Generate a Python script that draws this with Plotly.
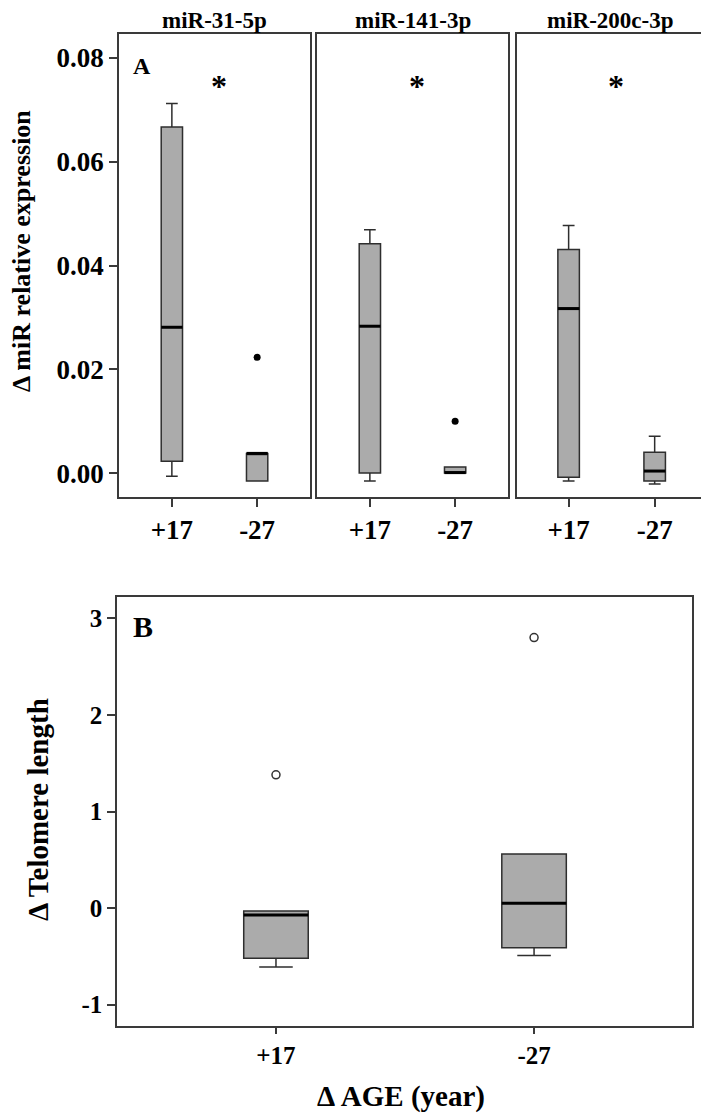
import plotly.graph_objects as go

# ---------------- data ----------------
groups = ["+17", "-27"]
mir_names = ["miR-31-5p", "miR-141-3p", "miR-200c-3p"]

mir_lower = [[-0.0006, -0.0015], [-0.0015, 0.0000], [-0.0015, -0.0021]]
mir_q1 = [[0.0023, -0.0015], [0.0000, 0.0000], [-0.0008, -0.0015]]
mir_median = [[0.0281, 0.0038], [0.0283, 0.0001], [0.0317, 0.0004]]
mir_q3 = [[0.0667, 0.0038], [0.0442, 0.0012], [0.0431, 0.0040]]
mir_upper = [[0.0712, 0.0038], [0.0469, 0.0012], [0.0477, 0.0071]]
mir_outlier_group = [1, 1, None]
mir_outlier_value = [0.0223, 0.0100, None]
mir_sig_label = ["*", "*", "*"]
mir_yticks = [0.00, 0.02, 0.04, 0.06, 0.08]

tel_lower = [-0.61, -0.49]
tel_q1 = [-0.52, -0.41]
tel_median = [-0.07, 0.05]
tel_q3 = [-0.03, 0.56]
tel_upper = [-0.03, 0.56]
tel_outliers = [1.38, 2.80]
tel_yticks = [-1, 0, 1, 2, 3]

# ---------------- style ----------------
PAGE_W, PAGE_H = 709, 1117
OFF = 8  # default page body margin
W, H = PAGE_W - OFF, PAGE_H - OFF
FONT = "Liberation Serif, Times New Roman, serif"
BOX_FILL = "#ababab"
EDGE = "#2e2e2e"
FRAME = "#3a3a3a"
BW = 0.25


def fx(p):
    return (p - OFF) / W


def fy(p):
    return 1 - (p - OFF) / H


fig = go.Figure()

# panel A subplot frames (screen pixels)
a_frames = [(119, 310), (317, 508), (517, 702)]
a_ranges = [[-0.62, 1.62], [-0.62, 1.62], [-0.60, 1.55]]
a_top, a_bot = 34, 497
b_frame = (117, 692)
b_top, b_bot = 597, 1026

xpos = list(range(len(groups)))


def paper_text(x, y, text, size, angle=0):
    fig.add_annotation(x=fx(x), y=fy(y), xref="paper", yref="paper", text=text,
                       showarrow=False, xanchor="center", yanchor="middle",
                       textangle=angle, borderpad=0,
                       font=dict(size=size, family=FONT, color="black", weight="bold"))


for k in range(3):
    xa = "x" if k == 0 else f"x{k+1}"
    ya = "y" if k == 0 else f"y{k+1}"
    fig.add_trace(go.Box(
        x=xpos, q1=mir_q1[k], median=mir_median[k], q3=mir_q3[k],
        lowerfence=mir_lower[k], upperfence=mir_upper[k],
        width=BW, whiskerwidth=0.55, fillcolor=BOX_FILL,
        line=dict(color=EDGE, width=1.5), boxpoints=False,
        showlegend=False, xaxis=xa, yaxis=ya))
    for i in xpos:
        fig.add_trace(go.Scatter(
            x=[i - BW / 2, i + BW / 2], y=[mir_median[k][i]] * 2,
            mode="lines", line=dict(color="black", width=3),
            showlegend=False, hoverinfo="skip", xaxis=xa, yaxis=ya))
    if mir_outlier_group[k] is not None:
        fig.add_trace(go.Scatter(
            x=[mir_outlier_group[k]], y=[mir_outlier_value[k]], mode="markers",
            marker=dict(color="black", size=7), showlegend=False,
            xaxis=xa, yaxis=ya))
    fig.add_annotation(x=0.55, y=0.0745, xref=xa, yref=ya, text=mir_sig_label[k],
                       showarrow=False, xanchor="center", yanchor="middle",
                       font=dict(size=32, family=FONT, color="black", weight="bold"))
    paper_text(sum(a_frames[k]) / 2, 20, mir_names[k], 23)

# panel B
fig.add_trace(go.Box(
    x=xpos, q1=tel_q1, median=tel_median, q3=tel_q3,
    lowerfence=tel_lower, upperfence=tel_upper,
    width=BW, whiskerwidth=0.52, fillcolor=BOX_FILL,
    line=dict(color=EDGE, width=1.5), boxpoints=False,
    showlegend=False, xaxis="x4", yaxis="y4"))
for i in xpos:
    fig.add_trace(go.Scatter(
        x=[i - BW / 2, i + BW / 2], y=[tel_median[i]] * 2,
        mode="lines", line=dict(color="black", width=3),
        showlegend=False, hoverinfo="skip", xaxis="x4", yaxis="y4"))
fig.add_trace(go.Scatter(
    x=xpos, y=tel_outliers, mode="markers",
    marker=dict(color="white", size=8, line=dict(color="#333333", width=1.5)),
    showlegend=False, xaxis="x4", yaxis="y4"))

axis_common = dict(showline=True, mirror=True, linecolor=FRAME, linewidth=1.5,
                   showgrid=False, zeroline=False, ticks="outside",
                   tickcolor=FRAME, tickwidth=1.5, automargin=False)

layout = dict(width=W, height=H, margin=dict(l=0, r=0, t=0, b=0, autoexpand=False),
              plot_bgcolor="white", paper_bgcolor="white",
              font=dict(family=FONT, color="black"))

for k in range(3):
    xn = "xaxis" if k == 0 else f"xaxis{k+1}"
    yn = "yaxis" if k == 0 else f"yaxis{k+1}"
    layout[xn] = dict(axis_common, domain=[fx(a_frames[k][0]), fx(a_frames[k][1])],
                      range=a_ranges[k], tickvals=xpos, ticktext=groups, ticklen=8,
                      tickfont=dict(size=27, family=FONT, weight="bold"),
                      anchor="y" if k == 0 else f"y{k+1}")
    ya = dict(axis_common, domain=[fy(a_bot), fy(a_top)], range=[-0.0046, 0.0846],
              anchor="x" if k == 0 else f"x{k+1}")
    if k == 0:
        ya.update(tickvals=mir_yticks, ticktext=[f"{v:.2f}" for v in mir_yticks],
                  ticklen=8, tickfont=dict(size=27, family=FONT, weight="bold"))
    else:
        ya.update(showticklabels=False, ticks="")
    layout[yn] = ya

layout["xaxis4"] = dict(axis_common, domain=[fx(b_frame[0]), fx(b_frame[1])],
                        range=[-0.616, 1.612], tickvals=xpos, ticktext=groups, ticklen=6,
                        tickfont=dict(size=25, family=FONT, weight="bold"), anchor="y4")
layout["yaxis4"] = dict(axis_common, domain=[fy(b_bot), fy(b_top)], range=[-1.22, 3.22],
                        tickvals=tel_yticks, ticktext=[str(v) for v in tel_yticks], ticklen=8,
                        tickfont=dict(size=25, family=FONT, weight="bold"), anchor="x4")

fig.update_layout(**layout)

# panel letters and axis titles
paper_text(142, 66, "A", 24)
paper_text(143, 626, "B", 30)
paper_text(21, 251, "Δ miR relative expression", 26, -90)
paper_text(38, 810, "Δ Telomere length", 29, -90)
paper_text(401, 1096, "Δ AGE (year)", 29)

fig.write_html("out.html")
